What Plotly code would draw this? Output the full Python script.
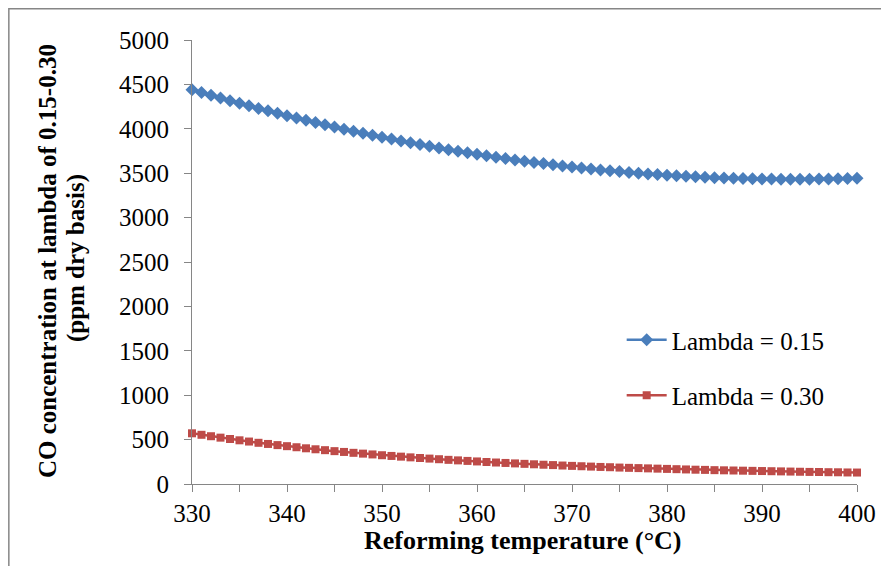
import plotly.graph_objects as go

temperature = list(range(330, 401))

lambda_015 = [4440, 4409, 4378, 4347, 4317, 4288, 4259, 4230, 4202, 4175,
              4148, 4121, 4095, 4070, 4045, 4020, 3996, 3973, 3950, 3927,
              3905, 3884, 3863, 3842, 3822, 3803, 3784, 3765, 3747, 3730,
              3713, 3696, 3680, 3665, 3650, 3635, 3621, 3608, 3595, 3582,
              3570, 3559, 3548, 3537, 3527, 3518, 3509, 3500, 3492, 3485,
              3478, 3471, 3465, 3460, 3455, 3450, 3446, 3443, 3440, 3437,
              3435, 3434, 3433, 3432, 3432, 3433, 3434, 3435, 3437, 3440, 3443]

lambda_030 = [571, 554, 538, 522, 507, 492, 478, 464, 451, 438,
              426, 414, 402, 391, 381, 370, 361, 351, 342, 333,
              324, 316, 308, 300, 293, 286, 279, 272, 266, 260,
              254, 248, 242, 237, 232, 227, 222, 217, 213, 208,
              204, 200, 196, 192, 189, 185, 182, 179, 176, 173,
              170, 167, 164, 161, 159, 156, 154, 152, 150, 148,
              146, 144, 142, 140, 138, 136, 135, 133, 132, 130, 129]

series_names = ["Lambda = 0.15", "Lambda = 0.30"]
x_tick_vals = [330, 340, 350, 360, 370, 380, 390, 400]
y_tick_vals = [0, 500, 1000, 1500, 2000, 2500, 3000, 3500, 4000, 4500, 5000]

SERIF = "Liberation Serif, Times New Roman, serif"
AXIS_GRAY = "#868686"
FS = 25

fig = go.Figure()
fig.add_trace(go.Scatter(
    x=temperature, y=lambda_015, name=series_names[0], mode="lines+markers",
    line=dict(color="#4A7EBB", width=2.5),
    marker=dict(symbol="diamond", size=10, color="#4A7EBB"),
    cliponaxis=False, legendgroup="a"))
fig.add_trace(go.Scatter(
    x=temperature, y=lambda_030, name=series_names[1], mode="lines+markers",
    line=dict(color="#BE4B48", width=2.5),
    marker=dict(symbol="square", size=8, color="#BE4B48"),
    cliponaxis=False, legendgroup="b"))

L, R, T, B = 192, 23.5, 40, 82
W, H = 881, 566
pw = W - L - R
ph = H - T - B

def px_x(px):
    return (px - L) / pw

def px_y(py):
    return (H - B - py) / ph

fig.update_layout(
    width=W, height=H,
    margin=dict(l=L, r=R, t=T, b=B),
    paper_bgcolor="white", plot_bgcolor="white",
    font=dict(family=SERIF, size=FS, color="black"),
    showlegend=True,
    legend=dict(x=px_x(622), y=px_y(317), xanchor="left", yanchor="top",
                font=dict(family=SERIF, size=FS, color="black"),
                tracegroupgap=20, bgcolor="rgba(0,0,0,0)", itemwidth=40),
    xaxis=dict(range=[330, 400], tickvals=x_tick_vals, ticks="outside",
               ticklen=7, tickcolor=AXIS_GRAY, showline=True, linecolor=AXIS_GRAY,
               linewidth=1, showgrid=False, zeroline=False, automargin=False,
               tickfont=dict(family=SERIF, size=FS),
               minor=dict(dtick=5, tick0=330, ticks="outside", ticklen=7,
                          tickcolor=AXIS_GRAY, showgrid=False)),
    yaxis=dict(range=[0, 5000], tickvals=y_tick_vals, ticks="outside",
               ticklen=7, tickcolor=AXIS_GRAY, showline=True, linecolor=AXIS_GRAY,
               linewidth=1, showgrid=False, zeroline=False, ticklabelstandoff=10,
               automargin=False, tickfont=dict(family=SERIF, size=FS)),
)

fig.add_annotation(text="<b>CO concentration at lambda of 0.15-0.30</b>",
                   xref="paper", yref="paper", x=px_x(47), y=px_y(261),
                   xanchor="center", yanchor="middle", textangle=-90,
                   showarrow=False, font=dict(family=SERIF, size=FS))
fig.add_annotation(text="<b>(ppm dry basis)</b>",
                   xref="paper", yref="paper", x=px_x(76), y=px_y(258),
                   xanchor="center", yanchor="middle", textangle=-90,
                   showarrow=False, font=dict(family=SERIF, size=FS))
fig.add_annotation(text="<b>Reforming temperature (°C)</b>",
                   xref="paper", yref="paper", x=px_x(522.5), y=px_y(540),
                   xanchor="center", yanchor="middle",
                   showarrow=False, font=dict(family=SERIF, size=26))

fig.add_shape(type="rect", xref="paper", yref="paper",
              x0=px_x(8.7), x1=px_x(900), y0=px_y(600), y1=px_y(8.7),
              line=dict(color=AXIS_GRAY, width=1.5), layer="below")

fig.write_html("out.html", config={"displayModeBar": False},
               post_script="document.body.style.margin='0';document.body.style.overflow='hidden';")
